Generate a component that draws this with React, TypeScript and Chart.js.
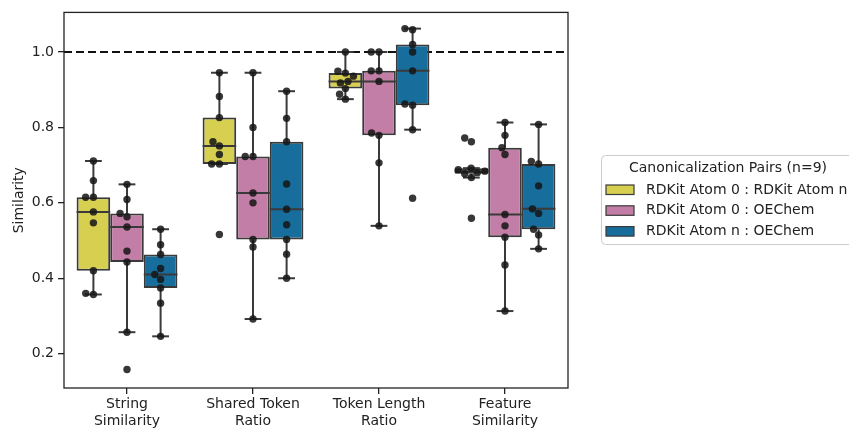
import React, { useEffect, useRef } from 'react';
import { Chart, registerables } from 'chart.js';

Chart.register(...registerables);

// ---------- data ----------
const CATEGORIES: string[][] = [
  ['String', 'Similarity'],
  ['Shared Token', 'Ratio'],
  ['Token Length', 'Ratio'],
  ['Feature', 'Similarity'],
];
const SERIES_NAMES = ['RDKit Atom 0 : RDKit Atom n', 'RDKit Atom 0 : OEChem', 'RDKit Atom n : OEChem'];
const SERIES_COLORS = ['#d6cf4f', '#c27ea6', '#176d9c'];
const LEGEND_TITLE = 'Canonicalization Pairs (n=9)';
const Y_LABEL = 'Similarity';
const Y_TICKS = [0.2, 0.4, 0.6, 0.8, 1.0];
const Y_MIN = 0.109;
const Y_MAX = 1.105;
const REFERENCE_VALUE = 1.0;

// one row per category, 9 molecules each
const ATOM0_VS_ATOMN: number[][] = [
  [0.711, 0.659, 0.615, 0.615, 0.576, 0.547, 0.42, 0.36, 0.357],
  [0.945, 0.882, 0.826, 0.762, 0.751, 0.728, 0.703, 0.703, 0.516],
  [1.0, 0.949, 0.944, 0.936, 0.922, 0.918, 0.903, 0.888, 0.875],
  [0.772, 0.762, 0.692, 0.688, 0.684, 0.68, 0.677, 0.667, 0.559],
];
const ATOM0_VS_OECHEM: number[][] = [
  [0.649, 0.609, 0.572, 0.563, 0.536, 0.472, 0.443, 0.257, 0.158],
  [0.945, 0.8, 0.723, 0.723, 0.626, 0.6, 0.503, 0.483, 0.292],
  [1.0, 1.0, 0.95, 0.95, 0.922, 0.785, 0.779, 0.706, 0.539],
  [0.813, 0.779, 0.746, 0.728, 0.569, 0.539, 0.509, 0.435, 0.313],
];
const ATOMN_VS_OECHEM: number[][] = [
  [0.53, 0.489, 0.463, 0.426, 0.41, 0.397, 0.374, 0.334, 0.246],
  [0.896, 0.824, 0.762, 0.65, 0.583, 0.542, 0.503, 0.464, 0.4],
  [1.062, 1.059, 1.02, 1.0, 0.95, 0.862, 0.859, 0.794, 0.612],
  [0.808, 0.71, 0.703, 0.645, 0.584, 0.572, 0.53, 0.515, 0.478],
];
const SERIES = [ATOM0_VS_ATOMN, ATOM0_VS_OECHEM, ATOMN_VS_OECHEM];

// ---------- helpers ----------
const FONT = 'DejaVu Sans';
const FONT_SIZE = 14;
const TEXT = '#222222';
const EDGE = '#3a3a3a';

function quantile(sorted: number[], p: number) {
  const pos = (sorted.length - 1) * p;
  const lo = Math.floor(pos);
  const hi = Math.ceil(pos);
  return sorted[lo] + (sorted[hi] - sorted[lo]) * (pos - lo);
}

function boxStats(values: number[]) {
  const s = [...values].sort((a, b) => a - b);
  const q1 = quantile(s, 0.25);
  const med = quantile(s, 0.5);
  const q3 = quantile(s, 0.75);
  const iqr = q3 - q1;
  const lo = s.filter((v) => v >= q1 - 1.5 * iqr);
  const hi = s.filter((v) => v <= q3 + 1.5 * iqr);
  return { q1, med, q3, wLo: Math.min(...lo), wHi: Math.max(...hi) };
}

function swarmOffsets(ys: number[], d: number): number[] {
  const order = ys.map((_, i) => i).sort((a, b) => ys[b] - ys[a]);
  const placed: { x: number; y: number }[] = [];
  const out = new Array(ys.length).fill(0);
  for (const i of order) {
    const y = ys[i];
    const neigh = placed.filter((p) => Math.abs(p.y - y) < d);
    const cands = [0];
    for (const p of neigh) {
      const dy = y - p.y;
      const dx = Math.sqrt(Math.max(d * d - dy * dy, 0)) * 1.05;
      cands.push(p.x - dx, p.x + dx);
    }
    cands.sort((a, b) => Math.abs(a) - Math.abs(b));
    let chosen = cands[0];
    for (const c of cands) {
      if (neigh.every((p) => Math.hypot(p.x - c, p.y - y) >= d - 1e-6)) {
        chosen = c;
        break;
      }
    }
    out[i] = chosen;
    placed.push({ x: chosen, y });
  }
  return out;
}

const boxPlugin = {
  id: 'boxExtras',
  beforeDatasetsDraw(chart: any) {
    const { ctx, chartArea, scales } = chart;
    const y = scales.y;
    ctx.save();
    // reference dashed line
    const ry = y.getPixelForValue(REFERENCE_VALUE);
    ctx.strokeStyle = '#111111';
    ctx.lineWidth = 2;
    ctx.setLineDash([8, 4]);
    ctx.beginPath();
    ctx.moveTo(chartArea.left, ry);
    ctx.lineTo(chartArea.right, ry);
    ctx.stroke();
    ctx.setLineDash([]);
    // whiskers + caps
    ctx.strokeStyle = EDGE;
    ctx.lineWidth = 2;
    SERIES.forEach((series, si) => {
      const meta = chart.getDatasetMeta(si);
      series.forEach((vals, ci) => {
        const st = boxStats(vals);
        const bar = meta.data[ci];
        const x = bar.x;
        const cw = bar.width / 4;
        const pairs = [
          [st.q1, st.wLo],
          [st.q3, st.wHi],
        ];
        for (const [a, b] of pairs) {
          const ya = y.getPixelForValue(a);
          const yb = y.getPixelForValue(b);
          ctx.beginPath();
          ctx.moveTo(x, ya);
          ctx.lineTo(x, yb);
          ctx.stroke();
          ctx.beginPath();
          ctx.moveTo(x - cw, yb);
          ctx.lineTo(x + cw, yb);
          ctx.stroke();
        }
      });
    });
    ctx.restore();
  },
  afterDatasetsDraw(chart: any) {
    const { ctx, scales } = chart;
    const y = scales.y;
    ctx.save();
    // medians
    ctx.strokeStyle = EDGE;
    ctx.lineWidth = 2;
    SERIES.forEach((series, si) => {
      const meta = chart.getDatasetMeta(si);
      series.forEach((vals, ci) => {
        const st = boxStats(vals);
        const bar = meta.data[ci];
        const my = y.getPixelForValue(st.med);
        ctx.beginPath();
        ctx.moveTo(bar.x - bar.width / 2, my);
        ctx.lineTo(bar.x + bar.width / 2, my);
        ctx.stroke();
      });
    });
    // swarm points
    const r = 3.7;
    ctx.fillStyle = 'rgba(22,22,22,0.86)';
    SERIES.forEach((series, si) => {
      const meta = chart.getDatasetMeta(si);
      series.forEach((vals, ci) => {
        const bar = meta.data[ci];
        const ys = vals.map((v) => y.getPixelForValue(v));
        const offs = swarmOffsets(ys, r * 2);
        ys.forEach((py, k) => {
          ctx.beginPath();
          ctx.arc(bar.x + offs[k], py, r, 0, Math.PI * 2);
          ctx.fill();
        });
      });
    });
    ctx.restore();
  },
  afterDraw(chart: any) {
    const { ctx, chartArea } = chart;
    ctx.save();
    // frame (spines)
    ctx.strokeStyle = TEXT;
    ctx.lineWidth = 1.3;
    ctx.strokeRect(chartArea.left, chartArea.top, chartArea.right - chartArea.left, chartArea.bottom - chartArea.top);

    // legend
    const lx = chartArea.right + 33;
    const ly = 155;
    const lw = 258;
    const lh = 89;
    ctx.fillStyle = 'rgba(255,255,255,0.9)';
    ctx.strokeStyle = '#cccccc';
    ctx.lineWidth = 1;
    ctx.beginPath();
    (ctx as any).roundRect(lx + 0.5, ly + 0.5, lw, lh, 4);
    ctx.fill();
    ctx.stroke();
    ctx.font = `${FONT_SIZE}px "${FONT}"`;
    ctx.fillStyle = TEXT;
    ctx.textBaseline = 'middle';
    ctx.textAlign = 'center';
    ctx.fillText(LEGEND_TITLE, lx + 127, ly + 13);
    ctx.textAlign = 'left';
    SERIES_NAMES.forEach((name, i) => {
      const cy = ly + 34.5 + i * 20.8;
      ctx.fillStyle = SERIES_COLORS[i];
      ctx.fillRect(lx + 5, cy - 4.5, 28, 9.5);
      ctx.strokeStyle = EDGE;
      ctx.lineWidth = 1.2;
      ctx.strokeRect(lx + 5, cy - 4.5, 28, 9.5);
      ctx.fillStyle = TEXT;
      ctx.fillText(name, lx + 45, cy + 0.5);
    });
    ctx.restore();
  },
};

export default function App() {
  const ref = useRef<HTMLCanvasElement | null>(null);
  useEffect(() => {
    document.body.style.margin = '0';
    const canvas = ref.current;
    if (!canvas) return;
    const datasets = SERIES.map((series, si) => ({
      label: SERIES_NAMES[si],
      data: series.map((vals) => {
        const st = boxStats(vals);
        return [st.q1, st.q3];
      }),
      backgroundColor: SERIES_COLORS[si],
      borderColor: EDGE,
      borderWidth: 2,
      borderSkipped: false,
      categoryPercentage: 0.8,
      barPercentage: 1.0,
    }));
    const chart = new Chart(canvas, {
      type: 'bar',
      data: { labels: CATEGORIES as any, datasets: datasets as any },
      options: {
        responsive: false,
        animation: false,
        devicePixelRatio: 1,
        layout: { padding: { left: 0, top: 12, right: 281, bottom: 0 } },
        plugins: { legend: { display: false }, tooltip: { enabled: false } },
        scales: {
          x: {
            type: 'category',
            offset: true,
            grid: {
              display: true,
              drawOnChartArea: false,
              drawTicks: true,
              tickLength: 6,
              offset: false,
              color: TEXT,
              lineWidth: 1.3,
            },
            border: { display: false },
            ticks: {
              color: TEXT,
              font: { family: FONT, size: FONT_SIZE },
              padding: 2,
              maxRotation: 0,
              autoSkip: false,
            },
            afterFit: (s: any) => {
              s.height = 40;
            },
          },
          y: {
            type: 'linear',
            min: Y_MIN,
            max: Y_MAX,
            grid: {
              display: true,
              drawOnChartArea: false,
              drawTicks: true,
              tickLength: 6,
              color: TEXT,
              lineWidth: 1.3,
            },
            border: { display: false },
            ticks: {
              color: TEXT,
              font: { family: FONT, size: FONT_SIZE },
              padding: 4,
              callback: (v: any) => Number(v).toFixed(1),
            },
            afterBuildTicks: (s: any) => {
              s.ticks = Y_TICKS.map((v) => ({ value: v }));
            },
            afterFit: (s: any) => {
              s.width = 64;
            },
            title: {
              display: true,
              text: Y_LABEL,
              color: TEXT,
              font: { family: FONT, size: FONT_SIZE },
              padding: { top: 11, bottom: 0 },
            },
          },
        },
      } as any,
      plugins: [boxPlugin],
    });
    return () => chart.destroy();
  }, []);
  return <canvas ref={ref} width={849} height={428} style={{ display: 'block' }} />;
}
